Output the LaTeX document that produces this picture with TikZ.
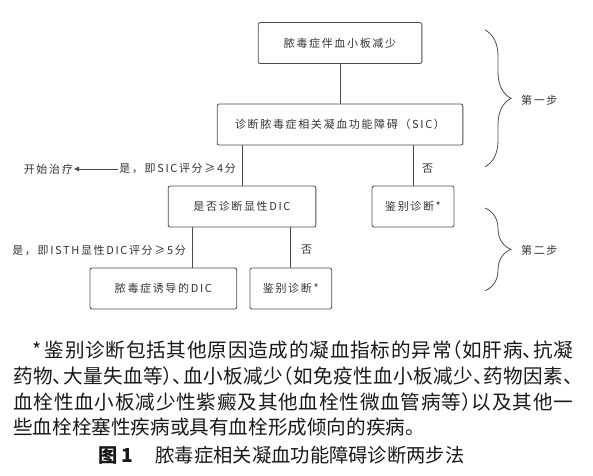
\documentclass[tikz,border=0pt]{standalone}
\usepackage{fontspec}
\setmainfont{Noto Sans CJK SC}
\newfontfamily\boxfont[LetterSpace=15]{Noto Sans CJK SC}
\newfontfamily\notefont[RawFeature=+halt]{Noto Sans CJK SC}
\usetikzlibrary{arrows.meta,decorations.pathreplacing}

\begin{document}
\begin{tikzpicture}[
    x		= 1pt,
    y		= -1pt,
    >		= {Triangle[length=5pt,width=4.5pt]},
    box/.style	= {draw=black!70, line width=0.8pt, rounded corners=2pt, minimum height=41pt, inner sep=0pt, text=black!80, font=\boxfont\fontsize{11}{13}\selectfont},
    lbl/.style	= {inner sep=1pt, text=black!80, font=\boxfont\fontsize{11}{13}\selectfont},
    link/.style	= {draw=black!70, line width=0.8pt},
    stepbrace/.style = {draw=black!70, line width=0.8pt, decorate, decoration={brace, amplitude=26pt}}
  ]
\useasboundingbox (0,0) rectangle (593,475);
% boxes
\node[box, minimum width=163.7pt] (sepsis) at (340,43) {脓毒症伴血小板减少};
\node[box, minimum width=245.7pt] (sic) at (340,124.5) {诊断脓毒症相关凝血功能障碍（SIC）};
\node[box, minimum width=147.7pt] (dic) at (242,206.5) {是否诊断显性DIC};
\node[box, minimum width=82pt] (diffA) at (413,206.5) {鉴别诊断*};
\node[box, minimum width=146.7pt] (sid) at (163.4,288.5) {脓毒症诱导的DIC};
\node[box, minimum width=81.7pt] (diffB) at (290.8,288.5) {鉴别诊断*};
\coordinate (k) at (192.7,0);
% connectors
\draw[link] (sepsis) -- (sic);
\draw[link] (sic.south -| dic) -- (dic);
\draw[link] (sic.south -| diffA) -- (diffA);
\draw[link] (dic.south -| k) -- (sid.north -| k);
\draw[link] (dic.south -| diffB) -- (diffB);
% labels
\node[lbl, anchor=east] (yes1) at (237,169) {是，即SIC评分≥4分};
\node[lbl, anchor=east] (treat) at (74,169) {开始治疗};
\draw[link,->] (yes1) -- (treat);
\node[lbl, anchor=west] (no1) at (421,169) {否};
\node[lbl, anchor=east] (yes2) at (187,250) {是，即ISTH显性DIC评分≥5分};
\node[lbl, anchor=west] (no2) at (300,250) {否};
% braces
\draw[stepbrace] (485,30) -- (485,166.7);
\node[lbl, anchor=west] (step1) at (520,100) {第一步};
\draw[stepbrace] (485,208) -- (485,290.7);
\node[lbl, anchor=west] (step2) at (520,250) {第二步};
% note
\node[anchor=north west, inner sep=0pt, text width=560pt, align=justify, text=black!90, font=\notefont\fontsize{19.6}{25.6}\selectfont] (note) at (13,341) {\XeTeXlinebreaklocale "zh"\XeTeXlinebreakskip=0pt plus 4pt\tolerance=10000\emergencystretch=20pt\hspace*{19pt}*\,鉴别诊断包括其他原因造成的凝血指标的异常（如肝病、抗凝\linebreak 药物、大量失血等）、血小板减少（如免疫性血小板减少、药物因素、\linebreak 血栓性血小板减少性紫癜及其他血栓性微血管病等）以及其他一\linebreak 些血栓栓塞性疾病或具有血栓形成倾向的疾病。};
\node[anchor=west, inner sep=0pt, text=black!90, font=\fontsize{19.3}{22}\selectfont] (caption) at (98,455) {\textbf{图 1}\hspace{22pt}脓毒症相关凝血功能障碍诊断两步法};
%
\end{tikzpicture}
\end{document}
